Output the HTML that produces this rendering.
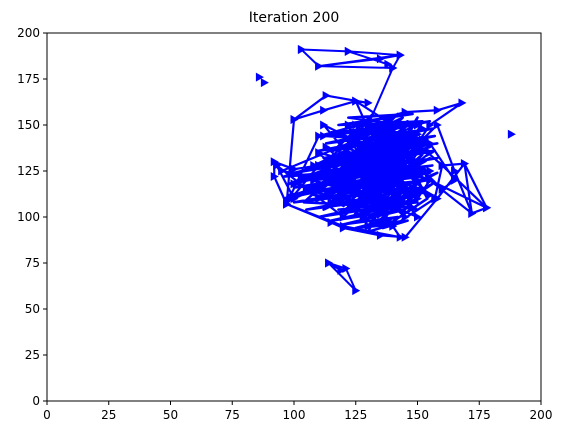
<!DOCTYPE html>
<html><head><meta charset="utf-8"><style>
body{margin:0;background:#fff;font-family:"Liberation Sans","DejaVu Sans",sans-serif}
svg text{font-family:"DejaVu Sans","Liberation Sans",sans-serif}
</style></head><body>
<svg id="chart" width="565" height="435" xmlns="http://www.w3.org/2000/svg">
<text x="294" y="22" font-size="14" text-anchor="middle">Iteration 200</text>
<g id="plot"></g>
<rect x="47" y="33" width="494" height="368" fill="none" stroke="#000" stroke-width="1"/>
<g id="axes"></g>
</svg>
<script>
const xTicks=[0,25,50,75,100,125,150,175,200];
const yTicks=[0,25,50,75,100,125,150,175,200];
const topPath=[[103,191],[122,190],[103,191],[110,182],[135,186],[143,188],[110,182],[140,181],[138,183],[122,190],[143,188],[140,181],[130,150]];
const bottomPath=[[114,75],[121,72],[125,60],[114,75],[119,71]];
const isolated=[[188,145],[86,176],[88,173]];
const clusterPath=[[100,153],[113,166],[130,162],[125,163],[112,158],[100,153],[97,107],[110,144],[145,157],[158,158],[168,162],[155,150],[150,140],[160,128],[169,129],[172,102],[178,105],[169,129],[158,110],[145,89],[135,90],[120,94],[115,97],[97,107],[92,122],[92,130],[100,126],[110,128],[120,120],[130,115],[140,125],[135,135],[125,140],[140,145],[155,120],[150,110],[128,100],[118,110],[105,115],[130,130],[145,135],[160,115],[165,120],[155,140],[112,144],[150,150],[115,130],[155,125],[108,120],[150,145],[120,100],[145,140],[110,110],[152,130],[118,145],[148,112],[95,125],[140,150],[125,105],[150,120],[113,138],[145,100],[122,150],[135,110],[100,118],[150,135],[130,95],[118,125],[152,148],[125,118],[140,105],[112,150],[150,125],[120,138],[138,98],[128,145],[155,112],[108,128],[145,145],[125,128],[140,118],[115,108],[135,140],[148,105],[120,132],[155,135],[130,108],[110,135],[145,122],[125,150],[135,125],[150,100],[118,118],[142,138],[128,112],[138,130],[122,135],[150,115],[132,120],[140,140],[126,124],[145,130],[115,122],[135,115],[130,138],[152,142],[100,110],[93,128],[120,100],[158,150],[165,125],[172,102],[155,120],[178,105],[160,128],[157,110],[140,95],[143,89],[120,95],[97,107],[110,128],[130,148],[125,163],[140,150]];
const densePath=[[112,144],[155,152],[113,140],[156,148],[110,136],[157,144],[112,132],[158,140],[108,128],[157,136],[110,124],[158,132],[105,120],[156,128],[100,116],[155,124],[98,112],[154,120],[100,108],[152,116],[105,104],[150,112],[110,100],[148,108],[115,98],[145,104],[120,96],[142,100],[125,94],[140,96],[130,92],[152,152],[118,150],[148,156],[122,154],[145,150],[115,146],[150,146],[98,118],[155,138],[96,110],[153,126],[102,122],[150,104],[108,112],[146,150],[112,104],[155,132],[118,102],[158,124],[124,100],[150,154],[128,98],[156,118],[132,96],[146,98],[136,94],[154,110],[138,152],[114,118],[142,156],[118,128],[146,152],[105,126],[150,140],[100,124],[154,136],[104,114],[153,114],[110,118],[150,128],[96,122],[148,144],[116,114],[146,126],[112,112],[144,148],[120,106],[154,142],[126,104],[152,134],[130,102],[150,118],[134,100],[146,112],[136,150],[120,142],[140,154],[126,146],[132,156],[116,136],[144,154],[122,126],[152,122],[128,118],[148,132],[134,122],[144,110],[138,108],[124,112],[140,132],[128,136],[146,138],[132,128],[142,116],[136,138],[126,130],[144,126],[130,124],[138,120],[132,112],[142,144],[124,120],[136,146],[128,108],[150,108],[118,104],[134,106],[104,108],[130,140],[114,124],[148,124]];
const X=v=>47+v*494/200, Y=v=>401-v*368/200;
const plot=document.getElementById('plot'), axes=document.getElementById('axes');
const NS='http://www.w3.org/2000/svg';
function drawPath(pts,name,markers,w){
  const pl=document.createElementNS(NS,'polyline');
  
  
  pl.setAttribute('points',pts.map(p=>X(p[0])+','+Y(p[1])).join(' '));
  pl.setAttribute('fill','none');pl.setAttribute('stroke','#0000ff');pl.setAttribute('stroke-width',w);pl.setAttribute('stroke-linejoin','round');
  plot.appendChild(pl);
  if(markers)pts.forEach(p=>marker(p));
}
function marker(p){
  const m=document.createElementNS(NS,'polygon');
  
  
  const x=X(p[0]),y=Y(p[1]);
  m.setAttribute('points',`${x-3.5},${y-4.5} ${x+4.5},${y} ${x-3.5},${y+4.5}`);
  m.setAttribute('fill','#0000ff');
  plot.appendChild(m);
}
drawPath(densePath,'dense-core-path',false,'2.6');
drawPath(clusterPath,'cluster-path',true,'2.2');
drawPath(topPath,'top-path',true,'2');
drawPath(bottomPath,'bottom-path',true,'2');
isolated.forEach(p=>marker(p));
xTicks.forEach(t=>{
  const l=document.createElementNS(NS,'line');
  
  
  l.setAttribute('x1',X(t));l.setAttribute('x2',X(t));l.setAttribute('y1',401);l.setAttribute('y2',405);l.setAttribute('stroke','#000');
  axes.appendChild(l);
  const tx=document.createElementNS(NS,'text');
  
  
  tx.setAttribute('x',X(t));tx.setAttribute('y',419);tx.setAttribute('font-size','12');tx.setAttribute('text-anchor','middle');
  tx.textContent=t;axes.appendChild(tx);
});
yTicks.forEach(t=>{
  const l=document.createElementNS(NS,'line');
  
  
  l.setAttribute('x1',43);l.setAttribute('x2',47);l.setAttribute('y1',Y(t));l.setAttribute('y2',Y(t));l.setAttribute('stroke','#000');
  axes.appendChild(l);
  const tx=document.createElementNS(NS,'text');
  
  
  tx.setAttribute('x',40);tx.setAttribute('y',Y(t)+4);tx.setAttribute('font-size','12');tx.setAttribute('text-anchor','end');
  tx.textContent=t;axes.appendChild(tx);
});
</script>
</body></html>
